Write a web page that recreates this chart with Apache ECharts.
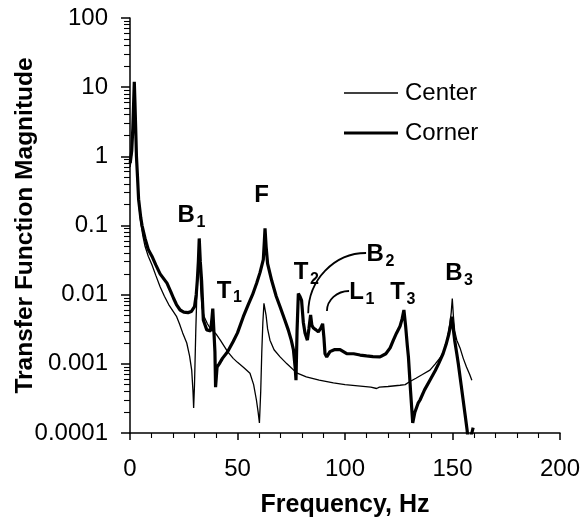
<!DOCTYPE html>
<html>
<head>
<meta charset="utf-8">
<script src="https://cdn.jsdelivr.net/npm/echarts@6/dist/echarts.min.js"></script>
<style>
  html, body { margin: 0; padding: 0; background: #fff; }
  #chart { width: 585px; height: 518px; }
</style>
</head>
<body>
<div id="chart"></div>
<script>
// Frequency response of the plate: transfer function magnitude vs. frequency
const FONT = '"Liberation Sans", Arial, Helvetica, sans-serif';

const centerFreq = [0.1, 0.8, 1.3, 1.7, 2.0, 2.3, 2.7, 3.0, 3.5, 4, 5, 6, 7, 8.5, 10.2, 12, 14, 16, 18, 20,
  21.7, 23, 24.5, 26.4, 27.7, 28.7, 29.3, 29.6, 30, 30.6, 31, 31.5, 32, 32.4, 32.9, 33.5, 34.5, 36, 37.2, 38,
  40, 42, 45.4, 48, 50, 53, 55.8, 57.5, 58.8, 59.6, 60.2, 60.8, 61.3, 61.8, 62.3, 62.8, 63.3, 64, 65.1, 67,
  69.8, 73, 77.5, 82, 88, 94.6, 100, 106, 112, 114.7, 116, 120, 125.6, 128, 130, 133, 136, 139.5, 142, 144,
  145.7, 147.5, 148.8, 149.4, 149.9, 150.4, 151, 152, 153.5, 155, 156.5, 158, 159];
const centerMag = [0.7, 1.1, 2.2, 5, 10.5, 5, 2, 0.9, 0.45, 0.22, 0.11, 0.07, 0.05, 0.036, 0.027, 0.019, 0.013, 0.0095, 0.0072, 0.0058,
  0.0048, 0.0038, 0.0028, 0.002, 0.0013, 0.00081, 0.0004, 0.00023, 0.0005, 0.003, 0.008, 0.02, 0.04, 0.03, 0.012, 0.0065, 0.0048, 0.0038, 0.0033, 0.0031,
  0.0027, 0.0022, 0.0015, 0.0012, 0.00105, 0.00088, 0.00073, 0.0005, 0.0003, 0.0002, 0.00014, 0.0004, 0.0015, 0.004, 0.0075, 0.008, 0.005, 0.0032, 0.0022, 0.0016,
  0.00126, 0.001, 0.00074, 0.00065, 0.00058, 0.00053, 0.0005, 0.00048, 0.00046, 0.00044, 0.00046, 0.00047, 0.00049, 0.0005, 0.00055, 0.00062, 0.0007, 0.00081, 0.001, 0.0012,
  0.0014, 0.0022, 0.0038, 0.0055, 0.0088, 0.005, 0.003, 0.0022, 0.0017, 0.0012, 0.0009, 0.0007, 0.00058];

const cornerFreq = [0.1, 0.8, 1.3, 1.7, 2.0, 2.3, 2.7, 3.0, 3.5, 4.0, 5.0, 5.6, 7.0, 8.5, 10.2, 12, 14, 17.2, 19, 20.3,
  21, 21.6, 23.3, 25, 27, 28.5, 30, 30.8, 31.3, 31.8, 32.2, 32.7, 33.3, 34.1, 35.7, 37.5, 38.1, 38.5, 39.3, 39.5,
  39.8, 40.5, 41.5, 43, 45.4, 48, 50, 52.7, 55, 57, 58.9, 60.5, 62, 62.5, 62.8, 63.3, 64, 65.9, 68, 69.8,
  72, 73.6, 75, 76, 76.8, 77.2, 77.7, 78.3, 79, 79.8, 80.6, 81.4, 82.5, 83.2, 84, 84.6, 85.3, 86.5, 87.6, 88.8,
  89.6, 90.2, 90.7, 91.5, 93, 95, 97.7, 100.8, 104, 107, 110, 113, 116.3, 119, 121, 122.5, 124, 125.6, 126.6, 127.4,
  128.2, 129, 129.5, 130.5, 131.5, 132.5, 134, 134.9, 137, 139.5, 142, 143.5, 145.6, 147, 148.3, 149.2, 149.6, 150.2, 151, 152,
  152.7, 154, 155.8, 156.8, 157.4, 158.2, 159, 159.6];
const cornerMag = [0.8, 1.2, 2.5, 6, 12, 6, 2.2, 1.0, 0.5, 0.24, 0.13, 0.1, 0.065, 0.045, 0.036, 0.027, 0.02, 0.0147, 0.011, 0.0088,
  0.0085, 0.0072, 0.006, 0.0056, 0.0055, 0.0057, 0.0067, 0.01, 0.016, 0.03, 0.065, 0.03, 0.016, 0.0043, 0.0031, 0.003, 0.0045, 0.0063, 0.0064, 0.0015,
  0.00046, 0.0009, 0.001, 0.0012, 0.0015, 0.0021, 0.0028, 0.0048, 0.0072, 0.01, 0.0146, 0.021, 0.032, 0.06, 0.091, 0.05, 0.028, 0.016, 0.0095, 0.0067,
  0.0043, 0.0031, 0.0022, 0.0016, 0.0009, 0.00058, 0.003, 0.0104, 0.0095, 0.0083, 0.004, 0.0028, 0.0022, 0.0032, 0.0051, 0.0036, 0.0033, 0.0031, 0.0029, 0.0033,
  0.0038, 0.0024, 0.0014, 0.00126, 0.0015, 0.0016, 0.0016, 0.0014, 0.0014, 0.00134, 0.0013, 0.00127, 0.00126, 0.0014, 0.0017, 0.0022, 0.0028, 0.0035, 0.0045, 0.006,
  0.0035, 0.0018, 0.00126, 0.0004, 0.00014, 0.0002, 0.00027, 0.0003, 0.00042, 0.00058, 0.0008, 0.001, 0.0014, 0.0019, 0.0027, 0.0038, 0.0048, 0.0035, 0.0022, 0.0014,
  0.001, 0.0005, 0.00019, 0.00011, 0.00007, 0.00007, 0.0001, 0.00012];

const yTickLabels = ['0.0001', '0.001', '0.01', '0.1', '1', '10', '100'];
const xTickLabels = ['0', '50', '100', '150', '200'];

// Mode labels: letter, subscript, anchor (frequency, magnitude)
const modeLetters = ['B', 'F', 'T', 'T', 'B', 'L', 'T', 'B'];
const modeSubs = ['1', '', '1', '2', '2', '1', '3', '3'];
const modeLabelFreq = [30.2, 61.2, 47.2, 83.0, 118.1, 108.8, 127.9, 154.7];
const modeLabelMag = [0.141, 0.27, 0.0113, 0.0208, 0.0386, 0.0107, 0.0107, 0.0202];

// Leader curves for B2 and L1: start (near the mode) and end (at the label)
const leaderStartFreq = [82.9, 91.6];
const leaderStartMag = [0.0054, 0.0058];
const leaderEndFreq = [109.8, 101.9];
const leaderEndMag = [0.04, 0.0113];

const pairs = (xs, ys) => xs.map((x, i) => [x, ys[i]]);

const chart = echarts.init(document.getElementById('chart'), null, { renderer: 'canvas' });

// One legend per series so each key line keeps its own thickness
function legendFor(name, thickness, top) {
  return {
    orient: 'vertical',
    left: 339,
    top: top,
    icon: 'rect',
    itemWidth: 54,
    itemHeight: thickness,
    data: [name],
    textStyle: { fontSize: 24, color: '#000', fontFamily: FONT, padding: [0, 0, 0, 2] }
  };
}

const tickLine = { color: '#000', width: 1.5 };
const minorLine = { color: '#000', width: 1.1 };

const option = {
  animation: false,
  backgroundColor: '#fff',
  textStyle: { fontFamily: FONT },
  grid: { left: 130, right: 25, top: 18, bottom: 85, containLabel: false, outerBoundsMode: 'none' },
  legend: [legendFor('Center', 1.3, 76), legendFor('Corner', 3.2, 116)],
  xAxis: [
    {
      type: 'value', position: 'bottom', min: 0, max: 200, interval: 50,
      name: 'Frequency, Hz', nameLocation: 'middle', nameGap: 60, nameMoveOverlap: false,
      nameTextStyle: { fontSize: 25, fontWeight: 'bold', color: '#000', fontFamily: FONT },
      axisLine: { show: true, onZero: false, lineStyle: { color: '#000', width: 1.5 } },
      axisTick: { show: true, inside: false, length: 7, lineStyle: tickLine },
      axisLabel: {
        fontSize: 24, color: '#000', margin: 24, fontFamily: FONT,
        formatter: v => xTickLabels[Math.round(v / 50)]
      },
      splitLine: { show: false }
    },
    {
      // inward ticks along the bottom edge
      type: 'value', position: 'bottom', min: 0, max: 200, interval: 50,
      axisLine: { show: false, onZero: false },
      axisTick: { show: true, inside: false, length: 6, lineStyle: tickLine },
      minorTick: { show: true, splitNumber: 5, length: 5, lineStyle: minorLine },
      axisLabel: { show: false, inside: true },
      splitLine: { show: false }
    }
  ],
  yAxis: [
    {
      type: 'log', logBase: 10, position: 'left', min: 0.0001, max: 100, splitNumber: 6,
      name: 'Transfer Function Magnitude', nameLocation: 'middle', nameGap: 92, nameMoveOverlap: false,
      nameTextStyle: { fontSize: 24.5, fontWeight: 'bold', color: '#000', fontFamily: FONT },
      axisLine: { show: true, onZero: false, lineStyle: { color: '#000', width: 1.5 } },
      axisTick: { show: true, inside: false, length: 9, lineStyle: tickLine },
      axisLabel: {
        fontSize: 24, color: '#000', margin: 22, fontFamily: FONT,
        formatter: v => yTickLabels[Math.round(Math.log10(v)) + 4]
      },
      splitLine: { show: false }
    },
    {
      // inward ticks along the left edge, with log-spaced minor ticks
      type: 'log', logBase: 10, position: 'left', min: 0.0001, max: 100, splitNumber: 6,
      axisLine: { show: false, onZero: false },
      axisTick: { show: true, inside: false, length: 8, lineStyle: tickLine },
      minorTick: { show: true, splitNumber: 9, length: 6, lineStyle: minorLine },
      axisLabel: { show: false, inside: true },
      splitLine: { show: false }
    }
  ],
  series: [
    {
      name: 'Center', type: 'line', xAxisIndex: 0, yAxisIndex: 0,
      data: pairs(centerFreq, centerMag),
      symbol: 'none', clip: true,
      lineStyle: { color: '#000', width: 1.3 },
      itemStyle: { color: '#000' }
    },
    {
      name: 'Corner', type: 'line', xAxisIndex: 0, yAxisIndex: 0,
      data: pairs(cornerFreq, cornerMag),
      symbol: 'none', clip: true,
      lineStyle: { color: '#000', width: 3.2 },
      itemStyle: { color: '#000' }
    }
  ]
};

chart.setOption(option);

// Mode labels and leader curves, placed through the chart's own coordinate system
function toPx(f, v) {
  return chart.convertToPixel({ xAxisIndex: 0, yAxisIndex: 0 }, [f, v]);
}

const elements = [];
modeLetters.forEach((letter, i) => {
  const p = toPx(modeLabelFreq[i], modeLabelMag[i]);
  const hasSub = modeSubs[i] !== '';
  elements.push({
    type: 'text', x: p[0], y: p[1], z: 100,
    style: {
      text: letter, fontSize: 24, fontWeight: 'bold', fontFamily: FONT, fill: '#000',
      align: hasSub ? 'right' : 'center', verticalAlign: 'middle'
    }
  });
  if (hasSub) {
    elements.push({
      type: 'text', x: p[0] + 1.5, y: p[1] + 7, z: 100,
      style: {
        text: modeSubs[i], fontSize: 16, fontWeight: 'bold', fontFamily: FONT, fill: '#000',
        align: 'left', verticalAlign: 'middle'
      }
    });
  }
});

leaderStartFreq.forEach((f, i) => {
  const s = toPx(f, leaderStartMag[i]);
  const e = toPx(leaderEndFreq[i], leaderEndMag[i]);
  elements.push({
    type: 'bezierCurve', z: 100,
    shape: {
      x1: s[0], y1: s[1], x2: e[0], y2: e[1],
      cpx1: s[0], cpy1: s[1] + (e[1] - s[1]) * 0.55,
      cpx2: s[0] + (e[0] - s[0]) * 0.45, cpy2: e[1]
    },
    style: { stroke: '#000', lineWidth: 1.8, fill: null }
  });
});

chart.setOption({ graphic: { elements: elements } });
</script>
</body>
</html>
